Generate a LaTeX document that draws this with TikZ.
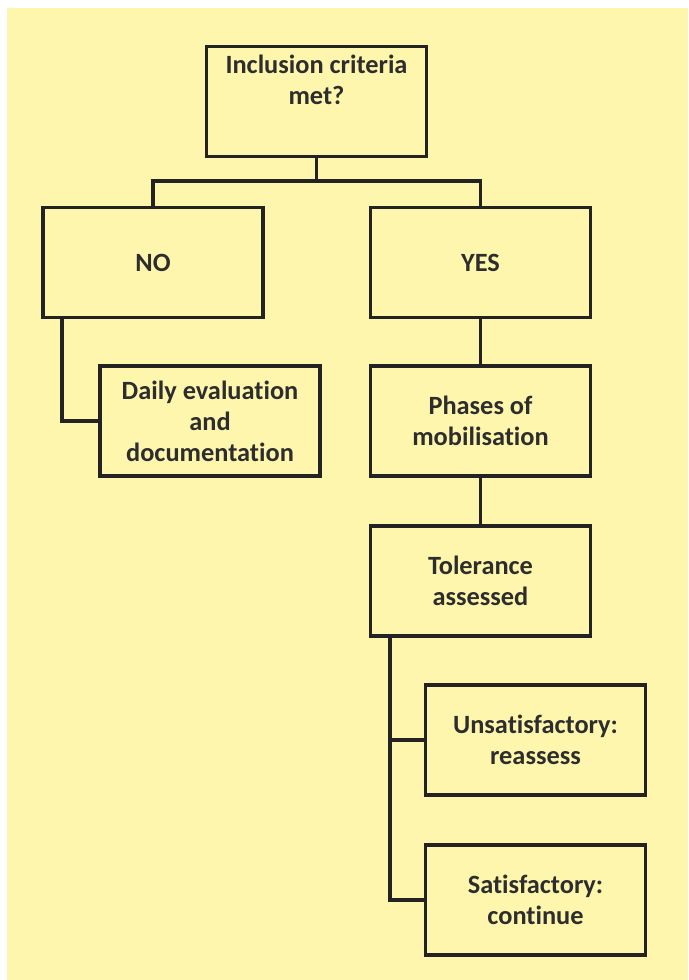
\documentclass[tikz,border=0pt]{standalone}
\usepackage{fontspec}
\setmainfont{Carlito}[Ligatures=NoCommon]
\usetikzlibrary{positioning}
\definecolor{bgYellow}{RGB}{255,246,174}
\definecolor{lineGray}{RGB}{35,35,35}
\definecolor{textGray}{RGB}{45,45,45}

\begin{document}
\begin{tikzpicture}[
    boxtext/.style={text=textGray, align=center, font=\bfseries\fontsize{15}{17.6}\selectfont},
    box/.style={boxtext, draw=lineGray, line width=2pt, minimum width=4.4cm, minimum height=2.2cm},
    link/.style={draw=lineGray, line width=2pt}]
  \useasboundingbox (0,0) rectangle (13.76,-19.6);
  \fill[bgYellow] (0.14,-0.16) rectangle (13.76,-19.6);

  % question and the two answers
  \node[box] (crit) at (6.33,-2.03) {};
  \node[boxtext, anchor=north, inner sep=0pt] (critText) at ([yshift=-0.2cm]crit.north) {Inclusion criteria\\met?};
  \node[box] (no) at (3.06,-5.25) {NO};
  \node[box] (yes) at (9.61,-5.25) {YES};
  \coordinate (split) at (6.33,-3.62);

  % NO branch
  \node[box] (daily) at (4.20,-8.42) {Daily evaluation\\and\\documentation};

  % YES branch
  \node[box] (phases) at (9.61,-8.42) {Phases of\\mobilisation};
  \node[box] (tol) at (9.61,-11.62) {Tolerance\\assessed};
  \node[box] (unsat) at (10.71,-14.80) {Unsatisfactory:\\reassess};
  \node[box] (sat) at (10.71,-18.00) {Satisfactory:\\continue};

  \draw[link] (crit) -- (split);
  \draw[link] (no.north) |- (split) -| (yes.north);
  \draw[link] ([xshift=0.41cm]no.south west) |- (daily.west);
  \draw[link] (yes) -- (phases);
  \draw[link] (phases) -- (tol);
  \draw[link] ([xshift=0.43cm]tol.south west) |- (unsat.west);
  \draw[link] ([xshift=0.43cm]tol.south west) |- (sat.west);
\end{tikzpicture}
\end{document}
